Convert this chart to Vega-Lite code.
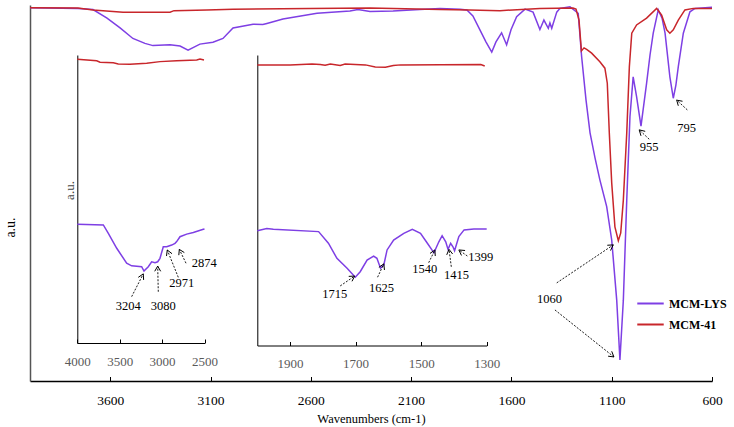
{
  "$schema": "https://vega.github.io/schema/vega-lite/v6.json",
  "width": 682,
  "height": 376,
  "autosize": {"type": "none"},
  "padding": {"left": 30, "top": 5, "right": 22, "bottom": 46},
  "background": "white",
  "config": {
    "view": {"stroke": null},
    "font": "Liberation Serif",
    "text": {"font": "Liberation Serif"}
  },
  "datasets": {
    "mainLines": [
      {"s":"MCM-LYS","wn":4000,"v":99.3},{"s":"MCM-LYS","wn":3761,"v":99.1},{"s":"MCM-LYS","wn":3686,"v":98.8},{"s":"MCM-LYS","wn":3616,"v":96.5},{"s":"MCM-LYS","wn":3551,"v":93.9},{"s":"MCM-LYS","wn":3487,"v":91.1},{"s":"MCM-LYS","wn":3427,"v":89.8},{"s":"MCM-LYS","wn":3387,"v":89.2},{"s":"MCM-LYS","wn":3302,"v":89.4},{"s":"MCM-LYS","wn":3252,"v":89.1},{"s":"MCM-LYS","wn":3212,"v":88.0},{"s":"MCM-LYS","wn":3153,"v":89.6},{"s":"MCM-LYS","wn":3088,"v":90.1},{"s":"MCM-LYS","wn":3038,"v":91.1},{"s":"MCM-LYS","wn":2988,"v":93.9},{"s":"MCM-LYS","wn":2888,"v":94.9},{"s":"MCM-LYS","wn":2839,"v":94.8},{"s":"MCM-LYS","wn":2819,"v":95.1},{"s":"MCM-LYS","wn":2739,"v":96.3},{"s":"MCM-LYS","wn":2569,"v":97.8},{"s":"MCM-LYS","wn":2405,"v":98.4},{"s":"MCM-LYS","wn":2365,"v":98.8},{"s":"MCM-LYS","wn":2305,"v":98.3},{"s":"MCM-LYS","wn":2190,"v":98.4},{"s":"MCM-LYS","wn":2056,"v":98.8},{"s":"MCM-LYS","wn":1956,"v":99.1},{"s":"MCM-LYS","wn":1856,"v":98.9},{"s":"MCM-LYS","wn":1822,"v":98.7},{"s":"MCM-LYS","wn":1792,"v":97.1},{"s":"MCM-LYS","wn":1757,"v":93.4},{"s":"MCM-LYS","wn":1727,"v":90.2},{"s":"MCM-LYS","wn":1698,"v":87.5},{"s":"MCM-LYS","wn":1677,"v":90.2},{"s":"MCM-LYS","wn":1649,"v":92.6},{"s":"MCM-LYS","wn":1624,"v":89.4},{"s":"MCM-LYS","wn":1602,"v":93.4},{"s":"MCM-LYS","wn":1574,"v":96.9},{"s":"MCM-LYS","wn":1532,"v":98.9},{"s":"MCM-LYS","wn":1492,"v":98.1},{"s":"MCM-LYS","wn":1458,"v":93.5},{"s":"MCM-LYS","wn":1438,"v":96.0},{"s":"MCM-LYS","wn":1416,"v":93.8},{"s":"MCM-LYS","wn":1408,"v":95.2},{"s":"MCM-LYS","wn":1399,"v":93.8},{"s":"MCM-LYS","wn":1374,"v":98.1},{"s":"MCM-LYS","wn":1358,"v":99.1},{"s":"MCM-LYS","wn":1308,"v":99.5},{"s":"MCM-LYS","wn":1267,"v":97.8},{"s":"MCM-LYS","wn":1250,"v":86.3},{"s":"MCM-LYS","wn":1228,"v":74.7},{"s":"MCM-LYS","wn":1208,"v":66.0},{"s":"MCM-LYS","wn":1183,"v":59.3},{"s":"MCM-LYS","wn":1159,"v":53.5},{"s":"MCM-LYS","wn":1125,"v":46.4},{"s":"MCM-LYS","wn":1100,"v":37.5},{"s":"MCM-LYS","wn":1075,"v":21.5},{"s":"MCM-LYS","wn":1059,"v":5.6},{"s":"MCM-LYS","wn":1042,"v":21.5},{"s":"MCM-LYS","wn":1025,"v":48.1},{"s":"MCM-LYS","wn":1009,"v":70.3},{"s":"MCM-LYS","wn":993,"v":80.9},{"s":"MCM-LYS","wn":976,"v":75.6},{"s":"MCM-LYS","wn":954,"v":67.8},{"s":"MCM-LYS","wn":926,"v":79.2},{"s":"MCM-LYS","wn":909,"v":86.7},{"s":"MCM-LYS","wn":893,"v":92.5},{"s":"MCM-LYS","wn":868,"v":98.7},{"s":"MCM-LYS","wn":849,"v":96.5},{"s":"MCM-LYS","wn":834,"v":92.5},{"s":"MCM-LYS","wn":810,"v":80.9},{"s":"MCM-LYS","wn":793,"v":75.2},{"s":"MCM-LYS","wn":780,"v":78.7},{"s":"MCM-LYS","wn":768,"v":83.6},{"s":"MCM-LYS","wn":743,"v":92.5},{"s":"MCM-LYS","wn":710,"v":98.2},{"s":"MCM-LYS","wn":685,"v":99.1},{"s":"MCM-LYS","wn":600,"v":99.4},
      {"s":"MCM-41","wn":4000,"v":99.3},{"s":"MCM-41","wn":3761,"v":99.2},{"s":"MCM-41","wn":3686,"v":98.7},{"s":"MCM-41","wn":3536,"v":98.1},{"s":"MCM-41","wn":3302,"v":98.1},{"s":"MCM-41","wn":3282,"v":98.5},{"s":"MCM-41","wn":3118,"v":98.7},{"s":"MCM-41","wn":2988,"v":98.9},{"s":"MCM-41","wn":2604,"v":99.1},{"s":"MCM-41","wn":2305,"v":99.2},{"s":"MCM-41","wn":1956,"v":98.8},{"s":"MCM-41","wn":1807,"v":98.7},{"s":"MCM-41","wn":1657,"v":98.5},{"s":"MCM-41","wn":1458,"v":99.1},{"s":"MCM-41","wn":1293,"v":99.2},{"s":"MCM-41","wn":1278,"v":98.9},{"s":"MCM-41","wn":1263,"v":96.0},{"s":"MCM-41","wn":1251,"v":87.8},{"s":"MCM-41","wn":1238,"v":88.6},{"s":"MCM-41","wn":1225,"v":88.2},{"s":"MCM-41","wn":1200,"v":87.2},{"s":"MCM-41","wn":1159,"v":84.9},{"s":"MCM-41","wn":1134,"v":83.2},{"s":"MCM-41","wn":1122,"v":79.2},{"s":"MCM-41","wn":1112,"v":66.0},{"s":"MCM-41","wn":1100,"v":52.7},{"s":"MCM-41","wn":1084,"v":41.0},{"s":"MCM-41","wn":1067,"v":37.3},{"s":"MCM-41","wn":1055,"v":39.4},{"s":"MCM-41","wn":1042,"v":48.1},{"s":"MCM-41","wn":1025,"v":66.0},{"s":"MCM-41","wn":1012,"v":83.6},{"s":"MCM-41","wn":1000,"v":92.5},{"s":"MCM-41","wn":976,"v":94.7},{"s":"MCM-41","wn":926,"v":96.5},{"s":"MCM-41","wn":876,"v":99.1},{"s":"MCM-41","wn":851,"v":97.3},{"s":"MCM-41","wn":826,"v":93.4},{"s":"MCM-41","wn":810,"v":92.5},{"s":"MCM-41","wn":793,"v":93.4},{"s":"MCM-41","wn":768,"v":96.0},{"s":"MCM-41","wn":735,"v":98.7},{"s":"MCM-41","wn":693,"v":99.1},{"s":"MCM-41","wn":600,"v":99.1}
    ],
    "ins1Lines": [
      {"s":"MCM-LYS","wn":4000,"v":41.2},{"s":"MCM-LYS","wn":3693,"v":41.0},{"s":"MCM-LYS","wn":3634,"v":38.1},{"s":"MCM-LYS","wn":3535,"v":32.9},{"s":"MCM-LYS","wn":3418,"v":27.7},{"s":"MCM-LYS","wn":3359,"v":26.8},{"s":"MCM-LYS","wn":3241,"v":26.5},{"s":"MCM-LYS","wn":3214,"v":25.0},{"s":"MCM-LYS","wn":3163,"v":26.5},{"s":"MCM-LYS","wn":3123,"v":28.2},{"s":"MCM-LYS","wn":3084,"v":27.9},{"s":"MCM-LYS","wn":3052,"v":28.2},{"s":"MCM-LYS","wn":3025,"v":29.4},{"s":"MCM-LYS","wn":2986,"v":33.4},{"s":"MCM-LYS","wn":2946,"v":33.4},{"s":"MCM-LYS","wn":2887,"v":34.0},{"s":"MCM-LYS","wn":2848,"v":34.6},{"s":"MCM-LYS","wn":2828,"v":35.2},{"s":"MCM-LYS","wn":2789,"v":36.9},{"s":"MCM-LYS","wn":2710,"v":37.8},{"s":"MCM-LYS","wn":2632,"v":38.4},{"s":"MCM-LYS","wn":2514,"v":39.5},{"s":"MCM-LYS","wn":2500,"v":39.6},
      {"s":"MCM-41","wn":4000,"v":98.5},{"s":"MCM-41","wn":3771,"v":98.0},{"s":"MCM-41","wn":3732,"v":97.5},{"s":"MCM-41","wn":3576,"v":97.3},{"s":"MCM-41","wn":3517,"v":96.9},{"s":"MCM-41","wn":3379,"v":96.8},{"s":"MCM-41","wn":3182,"v":97.1},{"s":"MCM-41","wn":3025,"v":97.7},{"s":"MCM-41","wn":2828,"v":98.0},{"s":"MCM-41","wn":2592,"v":98.3},{"s":"MCM-41","wn":2553,"v":98.6},{"s":"MCM-41","wn":2506,"v":98.3}
    ],
    "ins2Lines": [
      {"s":"MCM-LYS","wn":2000,"v":39.5},{"s":"MCM-LYS","wn":1971,"v":40.3},{"s":"MCM-LYS","wn":1951,"v":40.0},{"s":"MCM-LYS","wn":1813,"v":39.2},{"s":"MCM-LYS","wn":1783,"v":35.2},{"s":"MCM-LYS","wn":1757,"v":30.0},{"s":"MCM-LYS","wn":1726,"v":26.6},{"s":"MCM-LYS","wn":1701,"v":23.5},{"s":"MCM-LYS","wn":1686,"v":25.4},{"s":"MCM-LYS","wn":1665,"v":29.4},{"s":"MCM-LYS","wn":1645,"v":30.8},{"s":"MCM-LYS","wn":1635,"v":30.0},{"s":"MCM-LYS","wn":1624,"v":26.6},{"s":"MCM-LYS","wn":1614,"v":27.7},{"s":"MCM-LYS","wn":1604,"v":32.9},{"s":"MCM-LYS","wn":1584,"v":36.3},{"s":"MCM-LYS","wn":1553,"v":38.6},{"s":"MCM-LYS","wn":1527,"v":40.0},{"s":"MCM-LYS","wn":1502,"v":38.6},{"s":"MCM-LYS","wn":1481,"v":35.2},{"s":"MCM-LYS","wn":1461,"v":31.9},{"s":"MCM-LYS","wn":1446,"v":35.7},{"s":"MCM-LYS","wn":1436,"v":37.8},{"s":"MCM-LYS","wn":1425,"v":35.7},{"s":"MCM-LYS","wn":1418,"v":33.1},{"s":"MCM-LYS","wn":1410,"v":35.2},{"s":"MCM-LYS","wn":1403,"v":34.0},{"s":"MCM-LYS","wn":1398,"v":32.6},{"s":"MCM-LYS","wn":1385,"v":37.5},{"s":"MCM-LYS","wn":1369,"v":39.8},{"s":"MCM-LYS","wn":1339,"v":40.1},{"s":"MCM-LYS","wn":1300,"v":40.1},
      {"s":"MCM-41","wn":2000,"v":96.6},{"s":"MCM-41","wn":1900,"v":96.6},{"s":"MCM-41","wn":1833,"v":96.9},{"s":"MCM-41","wn":1808,"v":96.7},{"s":"MCM-41","wn":1793,"v":96.5},{"s":"MCM-41","wn":1777,"v":96.9},{"s":"MCM-41","wn":1747,"v":96.4},{"s":"MCM-41","wn":1732,"v":96.9},{"s":"MCM-41","wn":1670,"v":96.6},{"s":"MCM-41","wn":1640,"v":95.9},{"s":"MCM-41","wn":1609,"v":95.8},{"s":"MCM-41","wn":1585,"v":96.4},{"s":"MCM-41","wn":1563,"v":96.6},{"s":"MCM-41","wn":1318,"v":96.7},{"s":"MCM-41","wn":1306,"v":96.2}
    ],
    "mainArrows": [
      {"k":"shaft","wn":913,"v":64.3,"wn2":963,"v2":66.8},{"k":"head","wn":963,"v":66.8,"wn2":954,"v2":65.2},{"k":"head","wn":963,"v":66.8,"wn2":933,"v2":66.4},
      {"k":"shaft","wn":723,"v":72.1,"wn2":776,"v2":74.7},{"k":"head","wn":776,"v":74.7,"wn2":768,"v2":73.2},{"k":"head","wn":776,"v":74.7,"wn2":747,"v2":74.4},
      {"k":"shaft","wn":1374,"v":26.1,"wn2":1092,"v2":36.2},{"k":"head","wn":1092,"v":36.2,"wn2":1122,"v2":36.1},{"k":"head","wn":1092,"v":36.2,"wn2":1106,"v2":34.7},
      {"k":"shaft","wn":1383,"v":18.9,"wn2":1089,"v2":6.4},{"k":"head","wn":1089,"v":6.4,"wn2":1100,"v2":7.9},{"k":"head","wn":1089,"v":6.4,"wn2":1118,"v2":6.6}
    ],
    "ins1Arrows": [
      {"k":"shaft","wn":3359,"v":16.1,"wn2":3222,"v2":24.0},{"k":"head","wn":3222,"v":24.0,"wn2":3281,"v2":22.8},{"k":"head","wn":3222,"v":24.0,"wn2":3218,"v2":21.9},
      {"k":"shaft","wn":3045,"v":17.8,"wn2":3052,"v2":26.7},{"k":"head","wn":3052,"v":26.7,"wn2":3087,"v2":24.9},{"k":"head","wn":3052,"v":26.7,"wn2":3017,"v2":24.9},
      {"k":"shaft","wn":2809,"v":22.8,"wn2":2939,"v2":32.3},{"k":"head","wn":2939,"v":32.3,"wn2":2948,"v2":30.2},{"k":"head","wn":2939,"v":32.3,"wn2":2883,"v2":31.0},
      {"k":"shaft","wn":2718,"v":27.7,"wn2":2797,"v2":32.5},{"k":"head","wn":2797,"v":32.5,"wn2":2803,"v2":30.5},{"k":"head","wn":2797,"v":32.5,"wn2":2738,"v2":31.4}
    ],
    "ins2Arrows": [
      {"k":"shaft","wn":1747,"v":20.5,"wn2":1703,"v2":23.9},{"k":"head","wn":1703,"v":23.9,"wn2":1721,"v2":23.8},{"k":"head","wn":1703,"v":23.9,"wn2":1711,"v2":22.1},
      {"k":"shaft","wn":1633,"v":23.5,"wn2":1614,"v2":28.1},{"k":"head","wn":1614,"v":28.1,"wn2":1629,"v2":26.9},{"k":"head","wn":1614,"v":28.1,"wn2":1612,"v2":26.0},
      {"k":"shaft","wn":1477,"v":28.5,"wn2":1458,"v2":32.9},{"k":"head","wn":1458,"v":32.9,"wn2":1473,"v2":31.7},{"k":"head","wn":1458,"v":32.9,"wn2":1457,"v2":30.8},
      {"k":"shaft","wn":1408,"v":27.1,"wn2":1415,"v2":33.1},{"k":"head","wn":1415,"v":33.1,"wn2":1422,"v2":31.2},{"k":"head","wn":1415,"v":33.1,"wn2":1404,"v2":31.5},
      {"k":"shaft","wn":1359,"v":30.8,"wn2":1385,"v2":32.9},{"k":"head","wn":1385,"v":32.9,"wn2":1377,"v2":31.0},{"k":"head","wn":1385,"v":32.9,"wn2":1366,"v2":32.7}
    ],
    "mainText": [
      {"t":"955","wn":914,"v":62.2},{"t":"795","wn":726,"v":67.4},{"t":"1060","wn":1410,"v":21.8}
    ],
    "ins1Text": [
      {"t":"3204","wn":3399,"v":12.8},{"t":"3080","wn":2986,"v":12.8},{"t":"2971","wn":2769,"v":20.7},{"t":"2874","wn":2503,"v":27.7}
    ],
    "ins2Text": [
      {"t":"1715","wn":1764,"v":17.6},{"t":"1625","wn":1621,"v":19.9},{"t":"1540","wn":1489,"v":26.2},{"t":"1415","wn":1392,"v":24.3},{"t":"1399","wn":1318,"v":30.4}
    ]
  },
  "resolve": {"scale": {"x": "independent", "y": "independent"}, "axis": {"x": "independent", "y": "independent"}},
  "layer": [
    {
      "encoding": {
        "x": {"field": "wn", "type": "quantitative",
          "scale": {"domain": [4000, 600], "nice": false, "zero": false},
          "axis": {"orient": "bottom", "values": [3600, 3100, 2600, 2100, 1600, 1100, 600], "format": "d", "tickSize": -4.5, "tickColor": "black", "tickWidth": 1, "labelPadding": 16.5, "labelFont": "Liberation Serif", "labelFontSize": 13.5, "labelColor": "black", "labelFlush": false, "labelOverlap": false, "domainColor": "black", "domainWidth": 1.5, "grid": false, "title": "Wavenumbers (cm-1)", "titleFont": "Liberation Serif", "titleFontSize": 12.5, "titleFontWeight": "normal", "titleColor": "black", "titlePadding": 6}},
        "y": {"field": "v", "type": "quantitative",
          "scale": {"domain": [0, 100], "nice": false, "zero": false},
          "axis": {"orient": "left", "ticks": false, "labels": false, "grid": false, "domainColor": "#555555", "domainWidth": 1.5, "title": "a.u.", "titleFont": "Liberation Serif", "titleFontSize": 14, "titleFontWeight": "normal", "titleColor": "black", "titlePadding": 13, "titleY": 222}}
      },
      "layer": [
        {"data": {"name": "mainLines"}, "mark": {"type": "line", "strokeWidth": 1.5},
          "encoding": {"color": {"field": "s", "type": "nominal",
            "scale": {"domain": ["MCM-LYS", "MCM-41"], "range": ["#7E3FE4", "#C8262B"]},
            "legend": {"title": null, "orient": "none", "legendX": 606, "legendY": 284, "symbolType": "stroke", "symbolSize": 700, "symbolStrokeWidth": 2, "labelFont": "Liberation Serif", "labelFontSize": 12, "labelFontWeight": "bold", "labelColor": "black", "labelOffset": 4, "rowPadding": 0, "padding": 0}}}},
        {"data": {"name": "mainArrows"}, "transform": [{"filter": "datum.k === 'shaft'"}], "mark": {"type": "rule", "color": "black", "strokeWidth": 0.9, "strokeDash": [2, 1.5]},
          "encoding": {"x2": {"field": "wn2"}, "y2": {"field": "v2"}}},
        {"data": {"name": "mainArrows"}, "transform": [{"filter": "datum.k === 'head'"}], "mark": {"type": "rule", "color": "black", "strokeWidth": 1},
          "encoding": {"x2": {"field": "wn2"}, "y2": {"field": "v2"}}},
        {"data": {"name": "mainText"}, "mark": {"type": "text", "font": "Liberation Serif", "fontSize": 12.5, "color": "black"},
          "encoding": {"text": {"field": "t"}}}
      ]
    },
    {
      "encoding": {
        "x": {"field": "wn", "type": "quantitative",
          "scale": {"domain": [4000, 2500], "range": [47.3, 174.5], "nice": false, "zero": false},
          "axis": {"orient": "bottom", "offset": -38, "values": [4000, 3500, 3000, 2500], "format": "d", "tickSize": -4, "tickColor": "black", "labelPadding": 16, "labelFont": "Liberation Serif", "labelFontSize": 13, "labelColor": "#5a5a5a", "labelFlush": false, "labelOverlap": false, "domainColor": "black", "domainWidth": 1, "grid": false, "title": null}},
        "y": {"field": "v", "type": "quantitative",
          "scale": {"domain": [0, 100], "range": [338, 50], "nice": false, "zero": false},
          "axis": {"orient": "left", "offset": -47.3, "ticks": false, "labels": false, "grid": false, "domainColor": "black", "domainWidth": 1, "title": "a.u.", "titleFont": "Liberation Serif", "titleFontSize": 13, "titleFontWeight": "normal", "titleColor": "#444444", "titlePadding": 1, "titleY": 185}}
      },
      "layer": [
        {"data": {"name": "ins1Lines"}, "mark": {"type": "line", "strokeWidth": 1.5},
          "encoding": {"color": {"field": "s", "type": "nominal", "scale": {"domain": ["MCM-LYS", "MCM-41"], "range": ["#7E3FE4", "#C8262B"]}, "legend": null}}},
        {"data": {"name": "ins1Arrows"}, "transform": [{"filter": "datum.k === 'shaft'"}], "mark": {"type": "rule", "color": "black", "strokeWidth": 0.9, "strokeDash": [2, 1.5]},
          "encoding": {"x2": {"field": "wn2"}, "y2": {"field": "v2"}}},
        {"data": {"name": "ins1Arrows"}, "transform": [{"filter": "datum.k === 'head'"}], "mark": {"type": "rule", "color": "black", "strokeWidth": 1},
          "encoding": {"x2": {"field": "wn2"}, "y2": {"field": "v2"}}},
        {"data": {"name": "ins1Text"}, "mark": {"type": "text", "font": "Liberation Serif", "fontSize": 12.5, "color": "black"},
          "encoding": {"text": {"field": "t"}}}
      ]
    },
    {
      "encoding": {
        "x": {"field": "wn", "type": "quantitative",
          "scale": {"domain": [2000, 1300], "range": [227.3, 456.7], "nice": false, "zero": false},
          "axis": {"orient": "bottom", "offset": -35.5, "values": [1900, 1700, 1500, 1300], "format": "d", "tickSize": -4, "tickColor": "black", "labelPadding": 16, "labelFont": "Liberation Serif", "labelFontSize": 13, "labelColor": "#5a5a5a", "labelFlush": false, "labelOverlap": false, "domainColor": "black", "domainWidth": 1, "grid": false, "title": null}},
        "y": {"field": "v", "type": "quantitative",
          "scale": {"domain": [0, 100], "range": [340.5, 50], "nice": false, "zero": false},
          "axis": {"orient": "left", "offset": -227.3, "ticks": false, "labels": false, "grid": false, "domainColor": "black", "domainWidth": 1, "title": null}}
      },
      "layer": [
        {"data": {"name": "ins2Lines"}, "mark": {"type": "line", "strokeWidth": 1.5},
          "encoding": {"color": {"field": "s", "type": "nominal", "scale": {"domain": ["MCM-LYS", "MCM-41"], "range": ["#7E3FE4", "#C8262B"]}, "legend": null}}},
        {"data": {"name": "ins2Arrows"}, "transform": [{"filter": "datum.k === 'shaft'"}], "mark": {"type": "rule", "color": "black", "strokeWidth": 0.9, "strokeDash": [2, 1.5]},
          "encoding": {"x2": {"field": "wn2"}, "y2": {"field": "v2"}}},
        {"data": {"name": "ins2Arrows"}, "transform": [{"filter": "datum.k === 'head'"}], "mark": {"type": "rule", "color": "black", "strokeWidth": 1},
          "encoding": {"x2": {"field": "wn2"}, "y2": {"field": "v2"}}},
        {"data": {"name": "ins2Text"}, "mark": {"type": "text", "font": "Liberation Serif", "fontSize": 12.5, "color": "black"},
          "encoding": {"text": {"field": "t"}}}
      ]
    }
  ]
}
